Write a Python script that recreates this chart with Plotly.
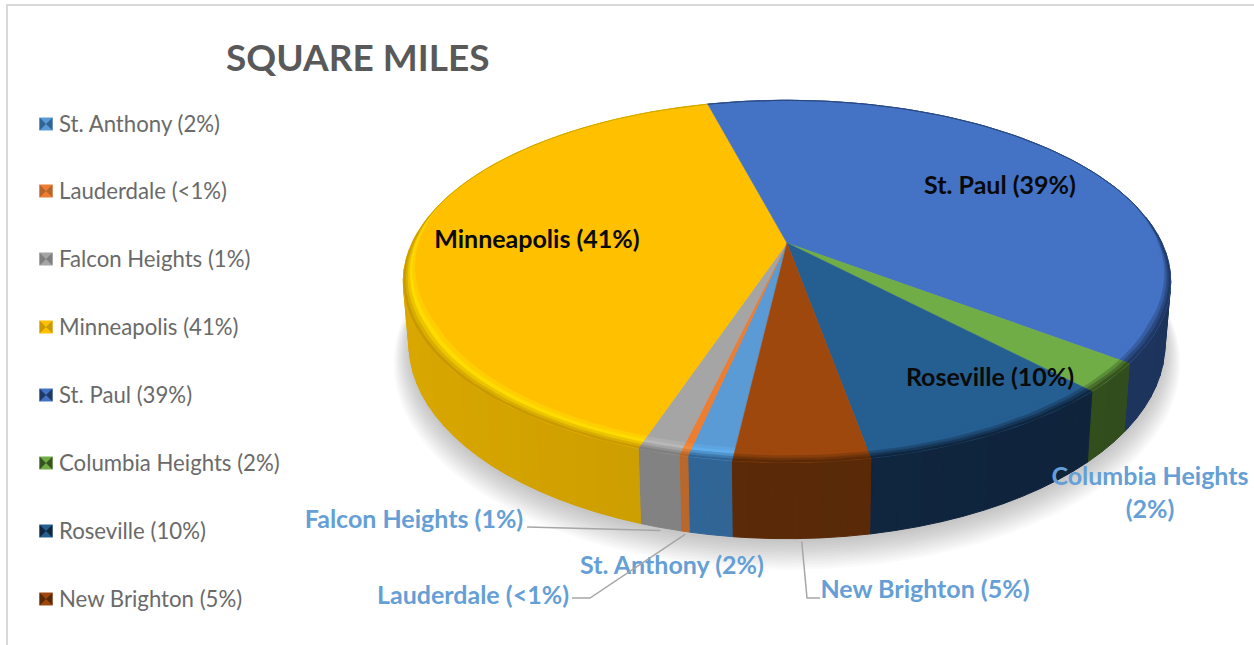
import math
import plotly.graph_objects as go

# ---- data, in legend order (clockwise round the pie)
names = ["St. Anthony", "Lauderdale", "Falcon Heights", "Minneapolis",
         "St. Paul", "Columbia Heights", "Roseville", "New Brighton"]
values = [1.53, 0.3, 1.47, 40.8, 39.48, 2.57, 9.25, 4.67]
legend_labels = ["St. Anthony (2%)", "Lauderdale (<1%)", "Falcon Heights (1%)", "Minneapolis (41%)",
                 "St. Paul (39%)", "Columbia Heights (2%)", "Roseville (10%)", "New Brighton (5%)"]
top_colors = ["#5B9BD5", "#ED7D31", "#A5A5A5", "#FFC000", "#4472C4", "#70AD47", "#255E91", "#9E480E"]
rim_colors = ["#62AEEC", "#F28A3C", "#B8B8B8", "#FFDC00", "#4472C4", "#70AD47", "#255E91", "#9E480E"]
wall_colors = ["#2F6494", "#B5652A", "#7F7F7F", "#C89A00", "#1F3864", "#35531F", "#10263F", "#5A2A08"]
title_text = "SQUARE MILES"

# ---- layout constants (pixels)
W, H = 1254, 645
CX, CY, BX, AY, K, DEPTH = 787, 243, 375, 173, 0.212, 60
START_DEG = 186.6


def hex2rgb(c):
    return tuple(int(c[i:i + 2], 16) for i in (1, 3, 5))


def mix(a, b, t):
    ra, rb = hex2rgb(a), hex2rgb(b)
    return "#%02X%02X%02X" % tuple(round(x + (y - x) * t) for x, y in zip(ra, rb))


def shade(c, f):
    r = hex2rgb(c)
    return "#%02X%02X%02X" % tuple(min(255, round(x * f)) for x in r)


def proj(theta, r=1.0, depth=0.0, shrink=1.0):
    t = math.radians(theta)
    u, v = r * math.sin(t), -r * math.cos(t)
    w = 1 - K * v
    return CX + shrink * BX * u / w, CY + AY * v / w + depth / w


def arc(a, b, r=1.0, depth=0.0, shrink=1.0, step=1.5):
    n = max(2, int(abs(b - a) / step) + 1)
    return [proj(a + (b - a) * i / (n - 1), r, depth, shrink) for i in range(n)]


def taper(theta):
    """Width of the bevel: full along the front, gone beyond the sides."""
    t = math.radians(theta)
    v = -math.cos(t)
    return max(0.0, min(1.0, (v + 0.25) / 0.7))


def rim_arc(a, b, inset, step=1.5):
    n = max(2, int(abs(b - a) / step) + 1)
    out = []
    for i in range(n):
        th = a + (b - a) * i / (n - 1)
        out.append(proj(th, 1 - inset * taper(th)))
    return out


def poly(fig, pts, fill, lw=1.0, line=None):
    xs, ys = zip(*pts)
    fig.add_trace(go.Scatter(
        x=list(xs) + [xs[0]], y=list(ys) + [ys[0]], mode="lines", fill="toself", fillcolor=fill,
        line=dict(color=line or fill, width=lw), hoverinfo="skip", showlegend=False))


total = sum(values)
edges = [START_DEG]
for val in values:
    edges.append(edges[-1] + val / total * 360)

fig = go.Figure()

# soft shadow under the pie
for i in range(12):
    e = 1 + i * 0.0035
    pts = arc(60, 300, e, DEPTH + 3 + i * 1.1, 0.985)
    poly(fig, pts, "rgba(90,90,90,0.028)", lw=0)

# side wall
for i in range(len(values)):
    a, b = edges[i], edges[i + 1]
    for lo_ in [a + j * 3 for j in range(int((b - a) // 3) + 1)]:
        hi_ = min(lo_ + 3, b)
        c = (lo_ + hi_) / 2 % 360
        if hi_ <= lo_ or not (80 <= c <= 282):
            continue
        f = 1 - 0.09 * math.sin(math.radians(c))
        col = shade(wall_colors[i], f)
        pts = [proj(lo_), proj(hi_), proj(hi_, 1, DEPTH, 0.985), proj(lo_, 1, DEPTH, 0.985)]
        poly(fig, pts, col, lw=1)

# top face
for i in range(len(values)):
    pts = [(CX, CY)] + arc(edges[i], edges[i + 1])
    poly(fig, pts, top_colors[i], lw=0.5)

# bevel round the front of the top face
rings = [0.048, 0.036, 0.025, 0.016, 0.008, 0.0]
for i in range(len(values)):
    a, b = edges[i], edges[i + 1]
    top, rim, wall = top_colors[i], rim_colors[i], wall_colors[i]
    cols = [mix(top, rim, 0.5), rim, mix(rim, wall, 0.35), mix(rim, wall, 0.7), wall]
    for j, col in enumerate(cols):
        pts = rim_arc(a, b, rings[j + 1]) + rim_arc(b, a, rings[j])
        poly(fig, pts, col, lw=0.3)

# legend
legend_y = [124, 191, 259, 327, 395, 463, 531, 599]
fig.add_trace(go.Scatter(
    x=[46] * 8, y=legend_y, mode="markers",
    marker=dict(symbol="square", size=13, color=top_colors, line=dict(width=0)),
    hoverinfo="skip", showlegend=False))
fig.add_trace(go.Scatter(
    x=[46] * 8, y=legend_y, mode="markers",
    marker=dict(symbol="bowtie", size=13, color=wall_colors, line=dict(width=0)),
    hoverinfo="skip", showlegend=False))
fig.add_trace(go.Scatter(
    x=[59] * 8, y=[v + 2 for v in legend_y], mode="text", text=legend_labels, textposition="middle right",
    textfont=dict(family="Lato", size=22.2, color="#6A6A6A"),
    hoverinfo="skip", showlegend=False))

# data labels
inside_labels = ["Minneapolis (41%)", "St. Paul (39%)", "Roseville (10%)"]
inside_x, inside_y = [537, 1000, 990], [242, 188, 380]
outside_labels = ["Falcon Heights (1%)", "St. Anthony (2%)", "Lauderdale (<1%)", "New Brighton (5%)",
                  "Columbia Heights<br>(2%)"]
outside_x, outside_y = [414, 672, 473, 925, 1150], [522, 568, 598, 592, 495]
fig.add_trace(go.Scatter(
    x=inside_x, y=inside_y, mode="text", text=inside_labels, textposition="middle center",
    textfont=dict(family="Lato", size=25, color="#0A0A0A", weight=700),
    hoverinfo="skip", showlegend=False))
fig.add_trace(go.Scatter(
    x=outside_x, y=outside_y, mode="text", text=outside_labels, textposition="middle center",
    textfont=dict(family="Lato", size=25, color="#659FD6", weight=700),
    hoverinfo="skip", showlegend=False))


def mid(name):
    i = names.index(name)
    return (edges[i] + edges[i + 1]) / 2


def foot(name):
    x, y = proj(mid(name), 1, DEPTH, 0.985)
    return x, y + 3


leaders = [
    ([(527, 527)], "Falcon Heights"),
    ([(572, 598), (590, 598)], "Lauderdale"),
    ([(820, 598), (807, 598)], "New Brighton"),
]
for pts, name in leaders:
    fx, fy = foot(name)
    xs = [p[0] for p in pts] + [fx]
    ys = [p[1] for p in pts] + [fy]
    fig.add_trace(go.Scatter(x=xs, y=ys, mode="lines", line=dict(color="#A6A6A6", width=1.5),
                             hoverinfo="skip", showlegend=False))

# frame of the screenshot
fig.add_trace(go.Scatter(x=[7, 7, W], y=[H, 5, 5], mode="lines", line=dict(color="#D9D9D9", width=2),
                         hoverinfo="skip", showlegend=False))

fig.update_layout(
    width=W, height=H, margin=dict(l=0, r=0, t=0, b=0),
    paper_bgcolor="white", plot_bgcolor="white", showlegend=False,
    title=dict(text=title_text, x=226 / W, xanchor="left", y=1 - 58 / H, yanchor="middle",
               font=dict(family="Lato", size=37, color="#595959", weight=700)),
    xaxis=dict(range=[0, W], visible=False, fixedrange=True),
    yaxis=dict(range=[H, 0], visible=False, fixedrange=True),
)
fig.write_html("out.html", config=dict(displayModeBar=False),
               post_script="document.body.style.margin='0';document.body.style.overflow='hidden';")
